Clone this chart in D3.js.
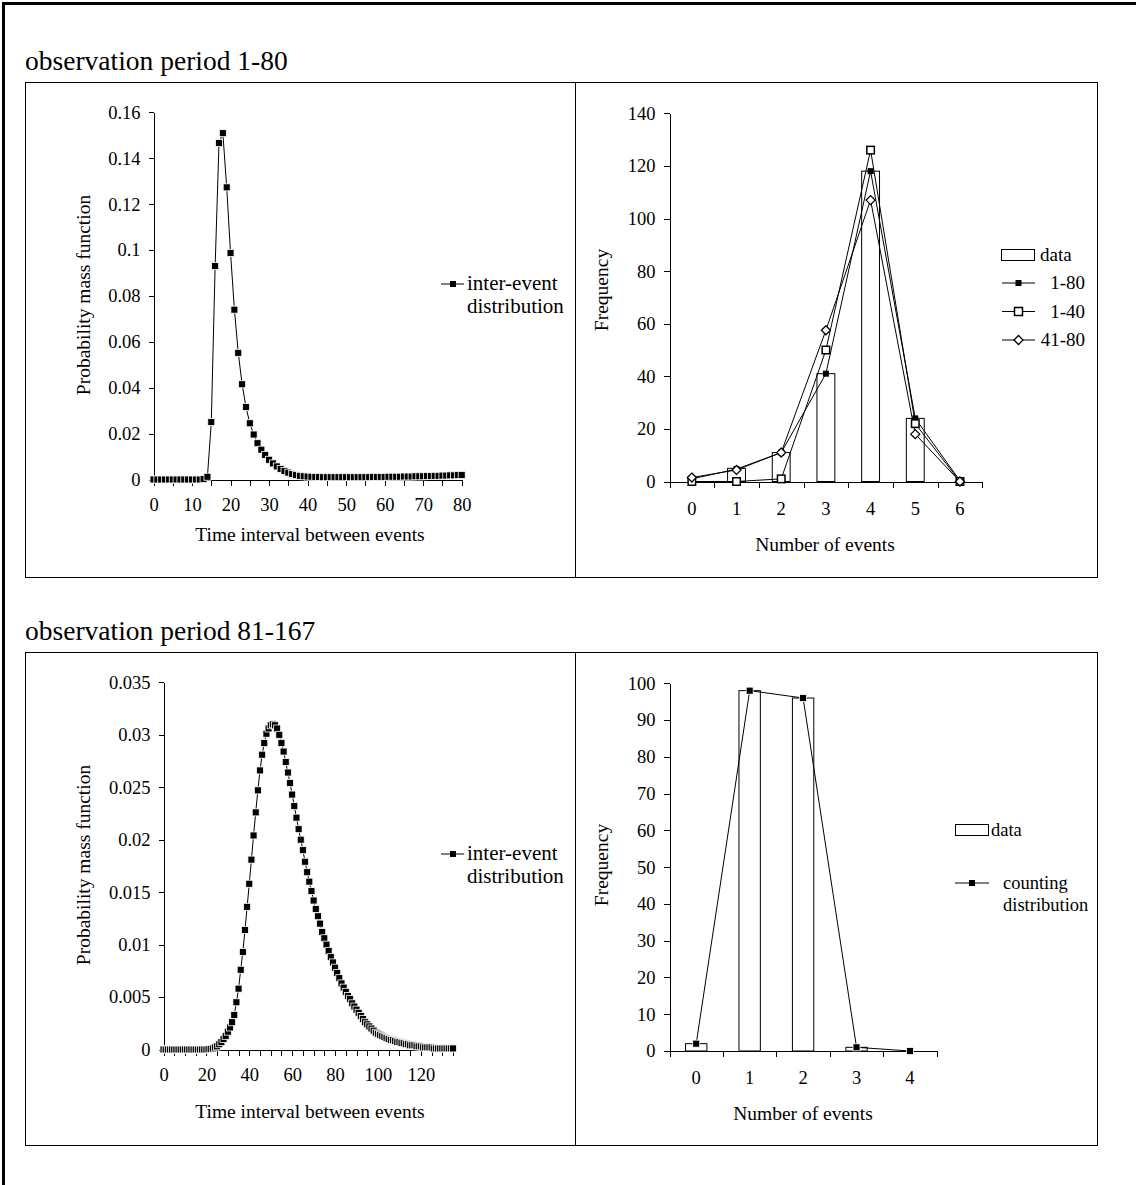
<!DOCTYPE html>
<html>
<head>
<meta charset="utf-8">
<script src="https://d3js.org/d3.v7.min.js"></script>
<style>
  body { margin: 0; background: #fff; }
  svg text { font-family: "Liberation Serif", "Times New Roman", serif; fill: #000; }
  .axis path, .axis line { stroke: #000; stroke-width: 1; shape-rendering: crispEdges; }
  .axis text { font-size: 18.5px; font-family: "Liberation Serif", serif; }
</style>
</head>
<body>
<script>
// ---- data ----
// inter-event distribution, observation period 1-80 (t = 0..80)
var ivTop = [
  0,0,0,0,0,0,0,0,0,0, 0,0,0,0.0002,0.0012,0.025,0.093,0.1466,0.1509,0.1273,
  0.0987,0.074,0.0552,0.0415,0.0316,0.0245,0.0196,0.0158,0.013,0.0107,
  0.0086,0.007,0.0057,0.0046,0.0037,0.003,0.0024,0.0019,0.0016,0.0014,
  0.0013,0.0012,0.0011,0.0011,0.001,0.001,0.001,0.001,0.001,0.001,
  0.001,0.001,0.001,0.001,0.001,0.001,0.001,0.0011,0.0011,0.0011,
  0.0011,0.0012,0.0012,0.0012,0.0012,0.0013,0.0013,0.0013,0.0014,0.0014,
  0.0014,0.0015,0.0015,0.0016,0.0016,0.0017,0.0017,0.0018,0.0018,0.0019,
  0.002
];
// inter-event distribution, observation period 81-167 (t = 0..135)
var ivBottom = [
  0,0,0,0,0,0,0,0,0,0, 0,0,0,0,0,0,0,0,0,0,
  0,0.00002,0.00005,0.0001,0.0002,0.0003,0.0005,0.0007,0.001,0.0013,
  0.0017,0.0021,0.0026,0.0033,0.0045,0.0058,0.0076,0.0093,0.0114,0.0136,
  0.0158,0.0181,0.0204,0.0226,0.0247,0.0266,0.0281,0.0292,0.0301,0.0306,
  0.0309,0.031,0.0309,0.0306,0.03,0.0292,0.0284,0.0274,0.0264,0.0254,
  0.0243,0.0232,0.0221,0.021,0.02,0.019,0.0179,0.0169,0.016,0.0151,
  0.0142,0.0134,0.0127,0.012,0.0112,0.0106,0.01,0.0094,0.0088,0.0083,
  0.0078,0.0073,0.0068,0.0063,0.0059,0.0055,0.0051,0.0048,0.0044,0.0041,
  0.0038,0.0035,0.0032,0.0029,0.0026,0.0024,0.0022,0.002,0.0018,0.0016,
  0.0015,0.0014,0.0013,0.0012,0.0011,0.001,0.0009,0.0009,0.0008,0.0007,
  0.0007,0.0006,0.0006,0.0005,0.0005,0.0004,0.0004,0.0004,0.0003,0.0003,
  0.0003,0.0002,0.0002,0.0002,0.0002,0.0002,0.0001,0.0001,0.0001,0.0001,
  0.0001,0.0001,0.0001,0.0001,0.0001,0.0001
];

var eventsTop = [0, 1, 2, 3, 4, 5, 6];
var dataTop = [0, 5, 11, 41, 118, 24, 0];
var fit1to80 = [1, 4.7, 11, 41, 118, 24, 0.3];
var fit1to40 = [0, 0, 1, 50, 126, 22, 0];
var fit41to80 = [1.5, 4.4, 11, 57.5, 107, 18, 0];

var eventsBottom = [0, 1, 2, 3, 4];
var dataBottom = [2, 98, 96, 1, 0];
var countBottom = [2, 98, 96, 1, 0];

var yTicksTopLeft = [0, 0.02, 0.04, 0.06, 0.08, 0.1, 0.12, 0.14, 0.16];
var yTicksBottomLeft = [0, 0.005, 0.01, 0.015, 0.02, 0.025, 0.03, 0.035];

// ---- drawing ----
var W = 1136, H = 1185;
var svg = d3.select("body").append("svg").attr("width", W).attr("height", H);

// outer frame (cut off on right / bottom)
svg.append("rect").attr("x", 3.5).attr("y", 3.5).attr("width", W + 20).attr("height", H + 20)
  .attr("fill", "none").attr("stroke", "#000").attr("stroke-width", 3);

function panelBox(y0, y1, title) {
  svg.append("text").attr("x", 25).attr("y", y0 - 12).style("font-size", "27.5px").text(title);
  svg.append("rect").attr("x", 25.5).attr("y", y0 + 0.5).attr("width", 1072).attr("height", y1 - y0)
    .attr("fill", "none").attr("stroke", "#000");
  svg.append("line").attr("x1", 575.5).attr("x2", 575.5).attr("y1", y0).attr("y2", y1).attr("stroke", "#000");
}
panelBox(82, 577, "observation period 1-80");
panelBox(652, 1145, "observation period 81-167");

function fmt(d) { return String(+d.toFixed(3)); }

function squares(g, pts, x, y, size, fill, stroke, sw) {
  g.selectAll(null).data(pts).enter().append("rect")
    .attr("x", function(d) { return x(d[0]) - size / 2; })
    .attr("y", function(d) { return y(d[1]) - size / 2; })
    .attr("width", size).attr("height", size)
    .attr("fill", fill).attr("stroke", stroke).attr("stroke-width", sw);
}
function diamonds(g, pts, x, y, r) {
  g.selectAll(null).data(pts).enter().append("path")
    .attr("d", function(d) {
      var cx = x(d[0]), cy = y(d[1]);
      return "M" + cx + "," + (cy - r) + "L" + (cx + r) + "," + cy + "L" + cx + "," + (cy + r) + "L" + (cx - r) + "," + cy + "Z";
    })
    .attr("fill", "#fff").attr("stroke", "#000").attr("stroke-width", 1.3);
}
function yTitle(cx, cy, text) {
  svg.append("text").attr("transform", "translate(" + cx + "," + cy + ") rotate(-90)")
    .attr("text-anchor", "middle").style("font-size", "19.5px").text(text);
}
function xTitle(cx, cy, text) {
  svg.append("text").attr("x", cx).attr("y", cy).attr("text-anchor", "middle").style("font-size", "19.5px").text(text);
}

// ---- inter-event chart ----
function interEvent(vals, xMax, xr, yr, yTicks, labelStep, legendY) {
  var x = d3.scaleLinear().domain([0, xMax]).range(xr);
  var y = d3.scaleLinear().domain([0, yTicks[yTicks.length - 1]]).range(yr);
  var g = svg.append("g");
  g.append("g").attr("class", "axis").attr("transform", "translate(" + xr[0] + ",0)")
    .call(d3.axisLeft(y).tickValues(yTicks).tickFormat(fmt).tickSize(5).tickSizeOuter(0).tickPadding(8));
  g.append("g").attr("class", "axis").attr("transform", "translate(0," + yr[0] + ")")
    .call(d3.axisBottom(x).tickValues(d3.range(0, xMax + 1, 5))
      .tickFormat(function(d) { return d % labelStep === 0 ? d : ""; })
      .tickSize(6).tickSizeOuter(0).tickPadding(12));
  var pts = vals.map(function(v, i) { return [i, v]; });
  g.append("path").datum(pts)
    .attr("d", d3.line().x(function(d) { return x(d[0]); }).y(function(d) { return y(d[1]); }))
    .attr("fill", "none").attr("stroke", "#000").attr("stroke-width", 1);
  squares(g, pts, x, y, 7, "#000", "#fff", 0.8);

  // legend
  svg.append("line").attr("x1", 441).attr("x2", 464).attr("y1", legendY).attr("y2", legendY).attr("stroke", "#000");
  svg.append("rect").attr("x", 450).attr("y", legendY - 3).attr("width", 6).attr("height", 6).attr("fill", "#000");
  svg.append("text").attr("x", 467).attr("y", legendY + 6).style("font-size", "21px").text("inter-event");
  svg.append("text").attr("x", 467).attr("y", legendY + 29).style("font-size", "21px").text("distribution");
}

interEvent(ivTop, 80, [153.5, 461.7], [479.5, 112.3], yTicksTopLeft, 10, 284);
yTitle(90, 295, "Probability mass function");
xTitle(310, 541, "Time interval between events");

interEvent(ivBottom, 135, [163.5, 453], [1049.5, 682.3], yTicksBottomLeft, 20, 854);
yTitle(90, 865, "Probability mass function");
xTitle(310, 1118, "Time interval between events");

// ---- counting charts ----
function counting(cats, bars, xr, yr, yMax, yStep) {
  var x = d3.scaleBand().domain(cats).range(xr);
  var y = d3.scaleLinear().domain([0, yMax]).range(yr);
  var g = svg.append("g");
  g.append("g").attr("class", "axis").attr("transform", "translate(" + xr[0] + ",0)")
    .call(d3.axisLeft(y).tickValues(d3.range(0, yMax + 1, yStep)).tickSize(6).tickSizeOuter(0).tickPadding(8));
  // axis line with ticks at the band edges, labels at the band centres
  var edges = d3.scaleLinear().domain([0, cats.length]).range(xr);
  g.append("g").attr("class", "axis").attr("transform", "translate(0," + yr[0] + ")")
    .call(d3.axisBottom(edges).tickValues(d3.range(0, cats.length + 1)).tickFormat("").tickSize(6).tickSizeOuter(0));
  g.append("g").attr("class", "axis").attr("transform", "translate(0," + yr[0] + ")")
    .call(d3.axisBottom(x).tickSize(0).tickPadding(20))
    .select(".domain").remove();
  var bw = x.bandwidth() * 0.4;
  g.selectAll(null).data(bars).enter().append("rect")
    .attr("x", function(d, i) { return x(cats[i]) + x.bandwidth() / 2 - bw / 2; })
    .attr("y", function(d) { return y(d); })
    .attr("width", bw).attr("height", function(d) { return y(0) - y(d); })
    .attr("fill", "#fff").attr("stroke", "#000").attr("stroke-width", 1);
  return { g: g, x: function(c) { return x(c) + x.bandwidth() / 2; }, y: y };
}
function seriesLine(c, cats, vals) {
  var pts = vals.map(function(v, i) { return [cats[i], v]; });
  c.g.append("path").datum(pts)
    .attr("d", d3.line().x(function(d) { return c.x(d[0]); }).y(function(d) { return c.y(d[1]); }))
    .attr("fill", "none").attr("stroke", "#000").attr("stroke-width", 1);
  return pts;
}

var tr = counting(eventsTop, dataTop, [669.5, 982.3], [481.5, 113.3], 140, 20);
var p1 = seriesLine(tr, eventsTop, fit1to80);
var p2 = seriesLine(tr, eventsTop, fit1to40);
var p3 = seriesLine(tr, eventsTop, fit41to80);
squares(tr.g, p1, tr.x, tr.y, 6, "#000", "none", 0);
squares(tr.g, p2, tr.x, tr.y, 7.5, "#fff", "#000", 1.5);
diamonds(tr.g, p3, tr.x, tr.y, 4.5);
yTitle(608, 290, "Frequency");
xTitle(825, 551, "Number of events");

// legend top-right
svg.append("rect").attr("x", 1001.5).attr("y", 249.5).attr("width", 33).attr("height", 11)
  .attr("fill", "#fff").attr("stroke", "#000");
svg.append("text").attr("x", 1040).attr("y", 261).style("font-size", "19px").text("data");
[[283, "1-80"], [311.5, "1-40"], [340, "41-80"]].forEach(function(it, k) {
  var ly = it[0];
  svg.append("line").attr("x1", 1002).attr("x2", 1035).attr("y1", ly).attr("y2", ly).attr("stroke", "#000");
  if (k === 0) svg.append("rect").attr("x", 1015.5).attr("y", ly - 3).attr("width", 6).attr("height", 6).attr("fill", "#000");
  if (k === 1) svg.append("rect").attr("x", 1014.5).attr("y", ly - 4).attr("width", 8).attr("height", 8)
    .attr("fill", "#fff").attr("stroke", "#000").attr("stroke-width", 1.5);
  if (k === 2) svg.append("path").attr("d", "M1018.5," + (ly - 4.5) + "l4.5,4.5l-4.5,4.5l-4.5,-4.5z")
    .attr("fill", "#fff").attr("stroke", "#000").attr("stroke-width", 1.3);
  svg.append("text").attr("x", 1085).attr("y", ly + 6).attr("text-anchor", "end").style("font-size", "19px").text(it[1]);
});

var br = counting(eventsBottom, dataBottom, [669.5, 936.7], [1051, 683.3], 100, 10);
var p4 = seriesLine(br, eventsBottom, countBottom);
squares(br.g, p4, br.x, br.y, 7, "#000", "#fff", 0.8);
yTitle(608, 865, "Frequency");
xTitle(803, 1120, "Number of events");

// legend bottom-right
svg.append("rect").attr("x", 955.5).attr("y", 824.5).attr("width", 33).attr("height", 11)
  .attr("fill", "#fff").attr("stroke", "#000");
svg.append("text").attr("x", 991).attr("y", 836).style("font-size", "18.5px").text("data");
svg.append("line").attr("x1", 955).attr("x2", 989).attr("y1", 883).attr("y2", 883).attr("stroke", "#000");
svg.append("rect").attr("x", 969).attr("y", 880).attr("width", 6).attr("height", 6).attr("fill", "#000");
svg.append("text").attr("x", 1003).attr("y", 889).style("font-size", "18.5px").text("counting");
svg.append("text").attr("x", 1003).attr("y", 911).style("font-size", "18.5px").text("distribution");
</script>
</body>
</html>
